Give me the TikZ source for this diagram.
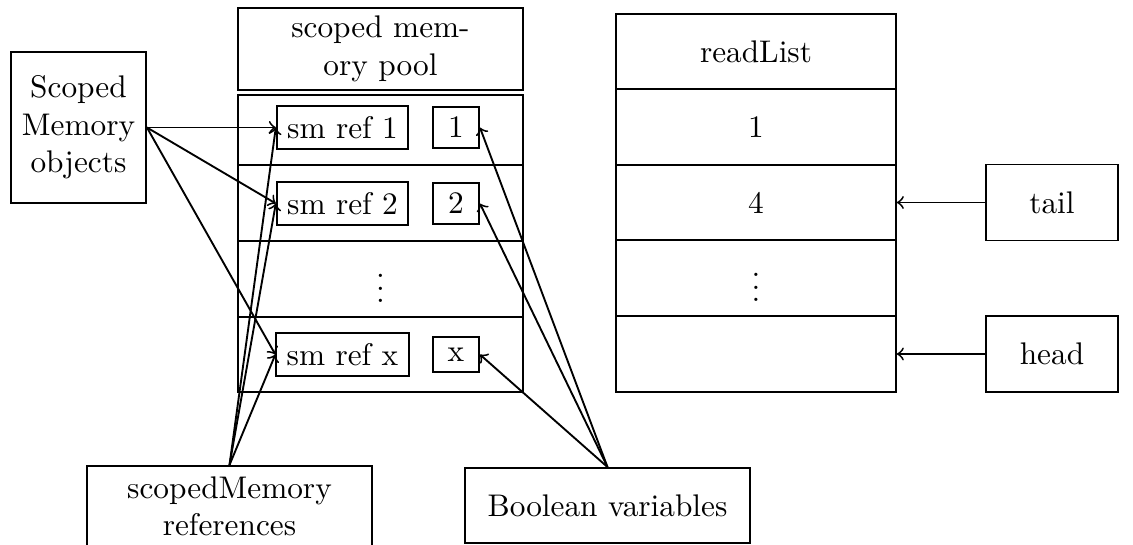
\documentclass[tikz,border=0pt]{standalone}
\def\px{0.3195pt}
\begin{document}
\begin{tikzpicture}[x=\px, y=-\px, line width=0.6pt,
  box/.style={draw, rectangle, align=center, inner sep=0.333em},
  poolcell/.style={box, minimum width=285*\px, inner sep=0pt},
  listcell/.style={box, minimum width=280*\px, inner sep=0pt},
  refbox/.style={box},
  flagbox/.style={box, minimum width=46*\px},
  side/.style={box, minimum width=132*\px, minimum height=76*\px},
  label/.style={box, minimum width=285*\px},
  link/.style={->}]
\useasboundingbox (0,0) rectangle (1133,545);

% scoped memory pool
\node[poolcell, minimum height=82*\px] (pooltop) at (380.5,49) {scoped mem-\\ory pool};
\node[poolcell, minimum height=70*\px] (pool1) at (380.5,130) {};
\node[poolcell, minimum height=76*\px] (pool2) at (380.5,203) {};
\node[poolcell, minimum height=76*\px] (pool3) at (380.5,279) {$\vdots$};
\node[poolcell, minimum height=75*\px] (pool4) at (380.5,354.5) {};

% entries inside the pool
\node[refbox] (sm1) at (342.5,127.5) {sm ref 1};
\node[refbox] (sm2) at (342.5,203.5) {sm ref 2};
\node[refbox] (smx) at (342.5,354.5) {sm ref x};
\node[flagbox] (b1) at (456,127.5) {1};
\node[flagbox] (b2) at (456,203.5) {2};
\node[flagbox] (bx) at (456,354.5) {x};

% readList
\node[listcell, minimum height=75*\px] (rl0) at (756,51.5) {readList};
\node[listcell, minimum height=76*\px] (rl1) at (756,127) {1};
\node[listcell, minimum height=75*\px] (rl2) at (756,202.5) {4};
\node[listcell, minimum height=76*\px] (rl3) at (756,278) {$\vdots$};
\node[listcell, minimum height=76*\px] (rl4) at (756,354) {};

\node[side] (tail) at (1052,202.5) {tail};
\node[side] (head) at (1052,354) {head};

% outside labels
\node[box, minimum width=135*\px, minimum height=151*\px] (objs) at (78.5,127.5) {Scoped\\Memory\\objects};
\node[label, anchor=north] (refs) at (229.5,465) {scopedMemory\\references};
\node[label, minimum height=75*\px] (bools) at (607.5,505.5) {Boolean variables};

% connectors
\foreach \t in {sm1,sm2,smx} {
  \draw[link] (objs.east) -- (\t.west);
  \draw[link] (refs.north) -- (\t.west);
}
\foreach \t in {b1,b2,bx}
  \draw[link] (bools.north) -- (\t.east);
\draw[link] (tail.west) -- (rl2.east);
\draw[link] (head.west) -- (rl4.east);
\end{tikzpicture}
\end{document}
